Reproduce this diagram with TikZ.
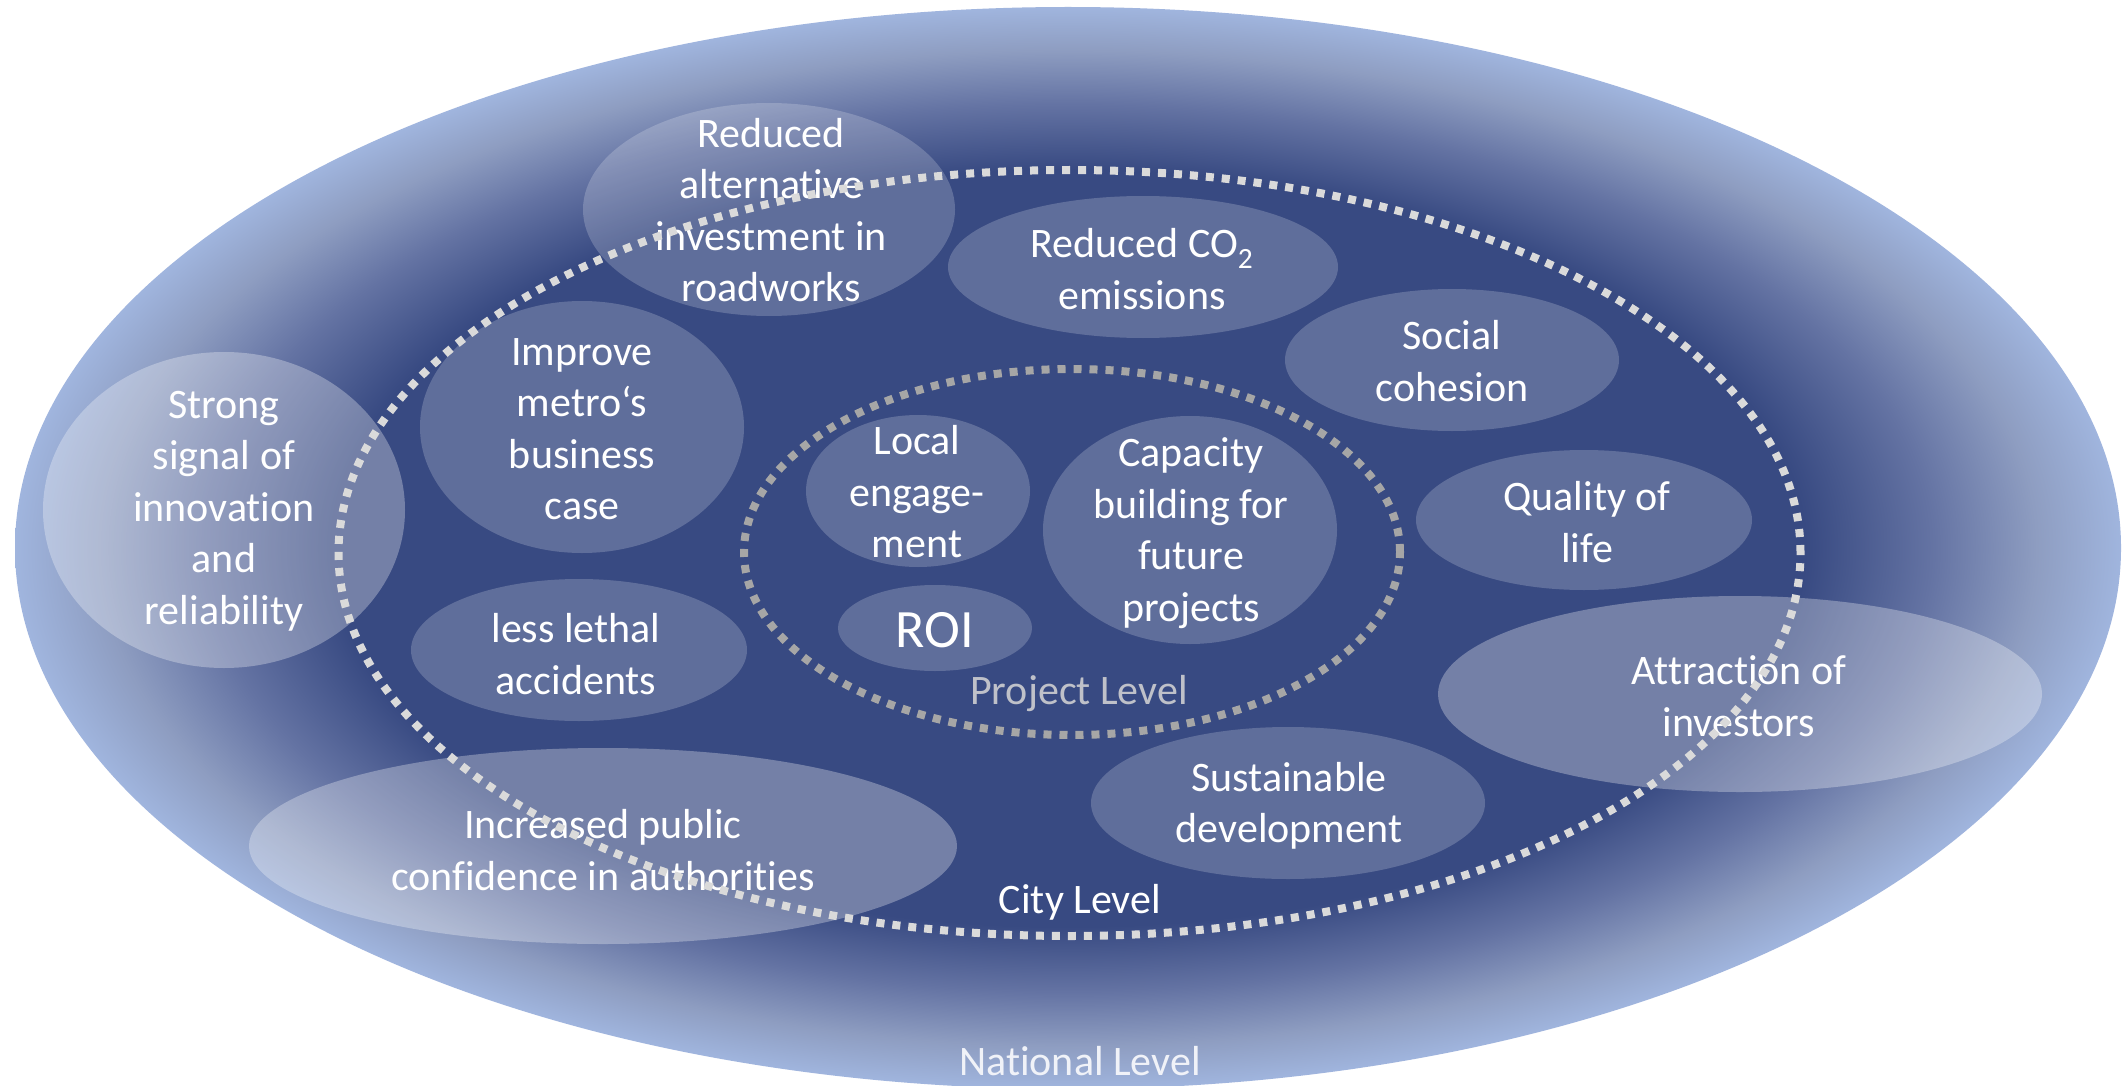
\documentclass[tikz,border=0pt]{standalone}
\usepackage{fontspec}
\setmainfont{Carlito}[Ligatures={NoCommon}]
\usetikzlibrary{shapes.geometric}
\definecolor{navy}{RGB}{56,74,130}
\definecolor{lightb}{RGB}{160,181,222}
\definecolor{midb}{RGB}{100,115,163}
\definecolor{greyb}{RGB}{142,157,193}
\definecolor{citydotc}{RGB}{218,218,218}
\definecolor{projdotc}{RGB}{166,166,166}
\definecolor{projtxt}{RGB}{191,193,201}
\definecolor{natxt}{RGB}{240,242,248}
\pgfdeclareradialshading{natshade}{\pgfpoint{0bp}{0bp}}{color(0bp)=(navy); color(17.5bp)=(navy); color(20.5bp)=(midb); color(23bp)=(greyb); color(25bp)=(lightb); color(50bp)=(lightb)}
\begin{document}
\begin{tikzpicture}[x=1pt,y=-1pt,
  bubble/.style={ellipse, inner sep=0pt, outer sep=0pt, fill=white, fill opacity=0.2, draw=none},
  obubble/.style={bubble, fill opacity=0.3},
  btext/.style={text=white, align=center, font=\fontsize{42}{51.5}\selectfont, inner sep=0pt},
  roitext/.style={text=white, align=center, font=\fontsize{54}{60}\selectfont, inner sep=0pt},
  citydot/.style={draw=citydotc, line width=8pt, dash pattern=on 8pt off 8pt},
  projdot/.style={draw=projdotc, line width=8pt, dash pattern=on 8pt off 8pt},
  lvltext/.style={align=center, font=\fontsize{42}{51.5}\selectfont, inner sep=0pt}
]
\fill[white] (0,0) rectangle (2124,1086);
\useasboundingbox (0,0) rectangle (2124,1086);

% national level
\node[ellipse, inner sep=0pt, minimum width=2106pt, minimum height=1082pt, shade, shading=natshade] (national) at (1068,548) {};

% bubbles
\node[bubble, minimum width=372pt, minimum height=213pt] (alt) at (769,209.5) {};
\node[bubble, minimum width=390pt, minimum height=142pt] (co2) at (1143,267) {};
\node[bubble, minimum width=334pt, minimum height=142pt] (soc) at (1452,360) {};
\node[bubble, minimum width=336pt, minimum height=140pt] (qol) at (1584,520) {};
\node[obubble, minimum width=604pt, minimum height=196pt] (attr) at (1740,694) {};
\node[bubble, minimum width=394pt, minimum height=152pt] (sust) at (1288,803) {};
\node[bubble, minimum width=294pt, minimum height=228pt] (cap) at (1190,530) {};
\node[bubble, minimum width=224pt, minimum height=152pt] (local) at (918,491) {};
\node[bubble, minimum width=194pt, minimum height=86pt] (roi) at (935,628) {};
\node[bubble, minimum width=324pt, minimum height=252pt] (impr) at (582,427) {};
\node[bubble, minimum width=336pt, minimum height=142pt] (lethal) at (579,650) {};
\node[obubble, minimum width=362pt, minimum height=316pt] (strong) at (224,510) {};
\node[obubble, minimum width=708pt, minimum height=196pt] (incr) at (603,846) {};

% texts
\node[btext] (alt-t) at (771,210) {Reduced\\alternative\\investment in\\roadworks};
\node[btext] (co2-t) at (1142,269) {Reduced CO\textsubscript{2}\\emissions};
\node[btext] (soc-t) at (1452,361) {Social\\cohesion};
\node[btext] (qol-t) at (1587,522) {Quality of\\life};
\node[btext] (attr-t) at (1739,696) {Attraction of\\investors};
\node[btext] (sust-t) at (1289,806) {Sustainable\\development};
\node[btext] (cap-t) at (1191,533) {Capacity\\building for\\future\\projects};
\node[btext] (local-t) at (917,492) {Local\\engage-\\ment};
\node[roitext] (roi-t) at (935,630) {ROI};
\node[btext] (impr-t) at (582,429) {Improve\\metro‘s\\business\\case};
\node[btext] (lethal-t) at (576,654) {less lethal\\accidents};
\node[btext] (strong-t) at (224,511) {Strong\\signal of\\innovation\\and\\reliability};
\node[btext] (incr-t) at (603,850) {Increased public\\confidence in authorities};

% level boundaries
\draw[citydot] (1069.5,553) ellipse [x radius=731pt, y radius=383pt];
\draw[projdot] (1072,552) ellipse [x radius=328pt, y radius=183pt];

% level labels
\node[lvltext, text=projtxt] (proj-l) at (1079,694) {Project Level};
\node[lvltext, text=white] (city-l) at (1080,902) {City Level};
\node[lvltext, text=natxt] (nat-l) at (1080,1061) {National Level};
\end{tikzpicture}
\end{document}
